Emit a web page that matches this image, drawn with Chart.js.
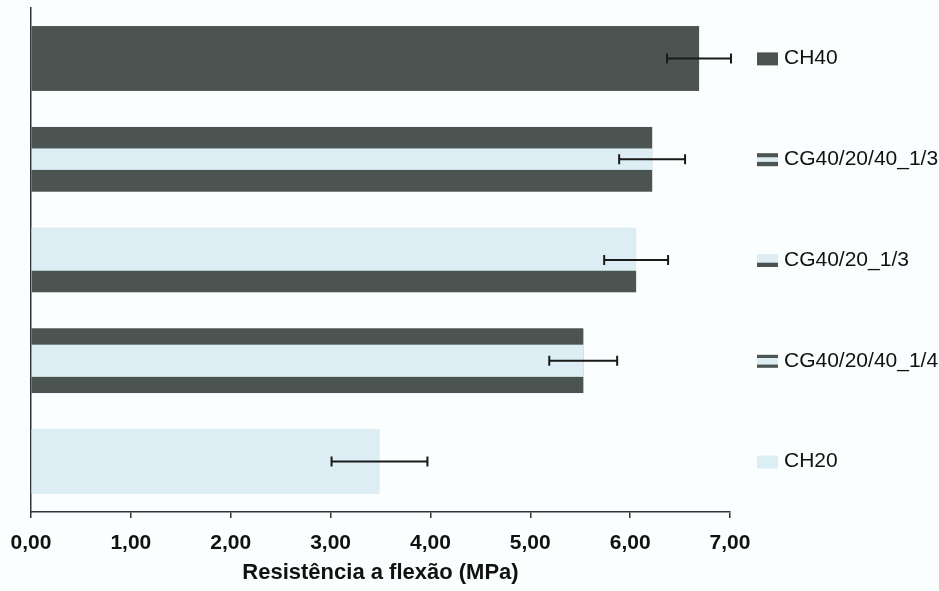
<!DOCTYPE html>
<html>
<head>
<meta charset="utf-8">
<script src="https://cdn.jsdelivr.net/npm/chart.js@4.4.0/dist/chart.umd.min.js"></script>
<style>
  html, body { margin: 0; padding: 0; background: #fbfefe; }
  #wrap { width: 939px; height: 591px; position: relative; }
</style>
</head>
<body>
<div id="wrap"><canvas id="chart"></canvas></div>
<script>
const categories = ['CH40', 'CG40/20/40_1/3', 'CG40/20_1/3', 'CG40/20/40_1/4', 'CH20'];
const strength = [6.69, 6.22, 6.06, 5.53, 3.49];
const strengthErr = [0.32, 0.33, 0.32, 0.34, 0.48];
const xTicks = [0, 1, 2, 3, 4, 5, 6, 7];

const DARK = '#4b5451';
const LIGHT = '#dceef4';
// stripes of each bar, top to bottom: [colour, share of bar height]
const stripes = [
  [[DARK, 1]],
  [[DARK, 1 / 3], [LIGHT, 1 / 3], [DARK, 1 / 3]],
  [[LIGHT, 2 / 3], [DARK, 1 / 3]],
  [[DARK, 1 / 4], [LIGHT, 1 / 2], [DARK, 1 / 4]],
  [[LIGHT, 1]]
];

Chart.defaults.font.family = "'Liberation Sans', Arial, sans-serif";

function fillStripes(ctx, list, left, top, width, height) {
  let y = top;
  list.forEach(([color, share]) => {
    const h = height * share;
    ctx.fillStyle = color;
    ctx.fillRect(left, y, width, h);
    y += h;
  });
}

const stripesPlugin = {
  id: 'stripes',
  afterDatasetsDraw(chart) {
    const ctx = chart.ctx;
    const meta = chart.getDatasetMeta(0);
    const xScale = chart.scales.x;
    const yScale = chart.scales.y;
    ctx.save();
    meta.data.forEach((bar, i) => {
      const { x, y, base, height } = bar.getProps(['x', 'y', 'base', 'height'], true);
      fillStripes(ctx, stripes[i], Math.min(base, x), y - height / 2, Math.abs(x - base), height);
    });

    // error bars
    ctx.strokeStyle = '#1a1a1a';
    ctx.lineWidth = 2;
    meta.data.forEach((bar, i) => {
      const lo = xScale.getPixelForValue(strength[i] - strengthErr[i]);
      const hi = xScale.getPixelForValue(strength[i] + strengthErr[i]);
      const y = bar.y;
      ctx.beginPath();
      ctx.moveTo(lo, y); ctx.lineTo(hi, y);
      ctx.moveTo(lo, y - 5); ctx.lineTo(lo, y + 5);
      ctx.moveTo(hi, y - 5); ctx.lineTo(hi, y + 5);
      ctx.stroke();
    });

    // legend swatches beside the names on the right axis
    categories.forEach((c, i) => {
      const cy = yScale.getPixelForTick(i);
      fillStripes(ctx, stripes[i], yScale.left + 27, cy - 6, 21, 13);
    });
    ctx.restore();
  }
};

new Chart(document.getElementById('chart'), {
  type: 'bar',
  data: {
    labels: categories,
    datasets: [{
      data: strength,
      backgroundColor: stripes.map(s => s[0][0]),
      borderWidth: 0,
      barPercentage: 0.64,
      categoryPercentage: 1
    }]
  },
  options: {
    indexAxis: 'y',
    responsive: true,
    maintainAspectRatio: false,
    animation: false,
    layout: { padding: { left: 31, top: 8, right: 0, bottom: 0 } },
    plugins: {
      legend: { display: false },
      tooltip: { enabled: false }
    },
    scales: {
      x: {
        min: 0,
        max: 7,
        afterBuildTicks: s => { s.ticks = xTicks.map(v => ({ value: v })); },
        ticks: {
          callback: v => v.toFixed(2).replace('.', ','),
          color: '#111',
          font: { size: 21, weight: 'bold' },
          padding: 13,
          maxRotation: 0
        },
        grid: { drawOnChartArea: false, drawTicks: true, tickLength: 6, color: '#333', lineWidth: 1.5 },
        border: { color: '#333', width: 1.5 },
        title: {
          display: true,
          text: 'Resistência a flexão (MPa)',
          color: '#111',
          font: { size: 22, weight: 'bold' },
          padding: { top: 0, bottom: 5 }
        },
        afterFit: s => {
          s.height = 79;
          s.paddingLeft = 0;
          s.paddingRight = 0;
        }
      },
      y: {
        position: 'right',
        grid: { display: false, drawTicks: false },
        border: { display: false },
        ticks: { color: '#111', font: { size: 21 }, padding: 54 },
        afterFit: s => {
          s.width = 209;
          s.paddingTop = 0;
          s.paddingBottom = 0;
        }
      },
      yl: {
        type: 'category',
        labels: categories,
        position: 'left',
        grid: { display: false, drawTicks: false },
        border: { color: '#333', width: 1.5 },
        ticks: { display: false },
        afterFit: s => {
          s.width = 0;
          s.paddingTop = 0;
          s.paddingBottom = 0;
        }
      }
    }
  },
  plugins: [stripesPlugin]
});
</script>
</body>
</html>
